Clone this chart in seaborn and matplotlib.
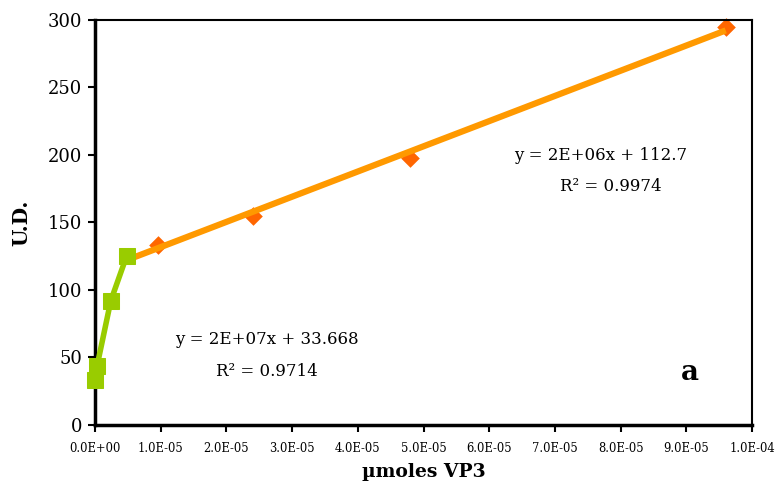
import matplotlib
matplotlib.use("Agg")
import matplotlib.pyplot as plt
import seaborn as sns
import numpy as np
import pandas as pd

# Data
green_x = [0.0, 0.3e-6, 2.4e-6, 4.8e-6]
green_y = [33, 43.5, 92, 125]
orange_x = [9.6e-6, 2.4e-5, 4.8e-5, 9.6e-5]
orange_y = [133, 155, 198, 295]
fit_x = [4.8e-6] + orange_x
fit_y = [125] + orange_y
x_ticks = [i * 1e-5 for i in range(11)]
x_tick_labels = ["0.0E+00", "1.0E-05", "2.0E-05", "3.0E-05", "4.0E-05", "5.0E-05",
                 "6.0E-05", "7.0E-05", "8.0E-05", "9.0E-05", "1.0E-04"]
y_ticks = [0, 50, 100, 150, 200, 250, 300]

sns.set_theme(style="white")
plt.rcParams['font.family'] = ['DejaVu Serif']
plt.rcParams['text.color'] = 'black'
plt.rcParams['axes.labelcolor'] = 'black'
plt.rcParams['xtick.color'] = 'black'
plt.rcParams['ytick.color'] = 'black'

fig = plt.figure(figsize=(7.77, 4.84), dpi=100)
ax = fig.add_axes([0.1223, 0.1219, 0.8455, 0.8368])

green = "#99CC00"
line_orange = "#FF9900"
dot_orange = "#FF6600"

fit_df = pd.DataFrame({"x": fit_x, "y": fit_y})
sns.regplot(data=fit_df, x="x", y="y", ax=ax, scatter=False, ci=None, truncate=True,
            line_kws=dict(color=line_orange, lw=4.5, solid_capstyle="butt", zorder=2))

og = pd.DataFrame({"x": orange_x, "y": orange_y})
sns.scatterplot(data=og, x="x", y="y", ax=ax, marker="D", s=90, color=dot_orange,
                edgecolor=dot_orange, linewidth=0, zorder=1, clip_on=False)

gd = pd.DataFrame({"x": green_x, "y": green_y})
sns.lineplot(data=gd, x="x", y="y", ax=ax, color=green, lw=4, marker="s", markersize=12,
             markeredgecolor=green, zorder=3, sort=False, clip_on=False)

ax.set_xlim(0, 1e-4)
ax.set_ylim(0, 300)
ax.set_xticks(x_ticks)
ax.set_xticklabels(x_tick_labels, fontsize=8.3, color="black")
ax.set_yticks(y_ticks)
ax.set_yticklabels([str(v) for v in y_ticks], fontsize=13, color="black")
ax.tick_params(axis="both", direction="out", length=5, width=1.5, color="black",
               bottom=True, left=True)
ax.tick_params(axis="x", pad=7)
ax.tick_params(axis="y", pad=4)

for side in ["left", "bottom"]:
    ax.spines[side].set_linewidth(2.5)
    ax.spines[side].set_color("black")
for side in ["top", "right"]:
    ax.spines[side].set_linewidth(1.5)
    ax.spines[side].set_color("black")

ax.set_xlabel("µmoles VP3", fontsize=13.5, fontweight="bold", labelpad=6, color="black")
ax.set_ylabel("U.D.", fontsize=14.5, fontweight="bold", labelpad=12, color="black")

ax.text(0.77, 0.665, "y = 2E+06x + 112.7", transform=ax.transAxes, ha="center",
        va="center", fontsize=12, color="black")
ax.text(0.785, 0.59, "R² = 0.9974", transform=ax.transAxes, ha="center",
        va="center", fontsize=12, color="black")
ax.text(0.262, 0.21, "y = 2E+07x + 33.668", transform=ax.transAxes, ha="center",
        va="center", fontsize=12, color="black")
ax.text(0.262, 0.131, "R² = 0.9714", transform=ax.transAxes, ha="center",
        va="center", fontsize=12, color="black")
ax.text(0.905, 0.13, "a", transform=ax.transAxes, ha="center", va="center",
        fontsize=20, fontweight="bold", color="black")

fig.savefig("out.png", dpi=100)
